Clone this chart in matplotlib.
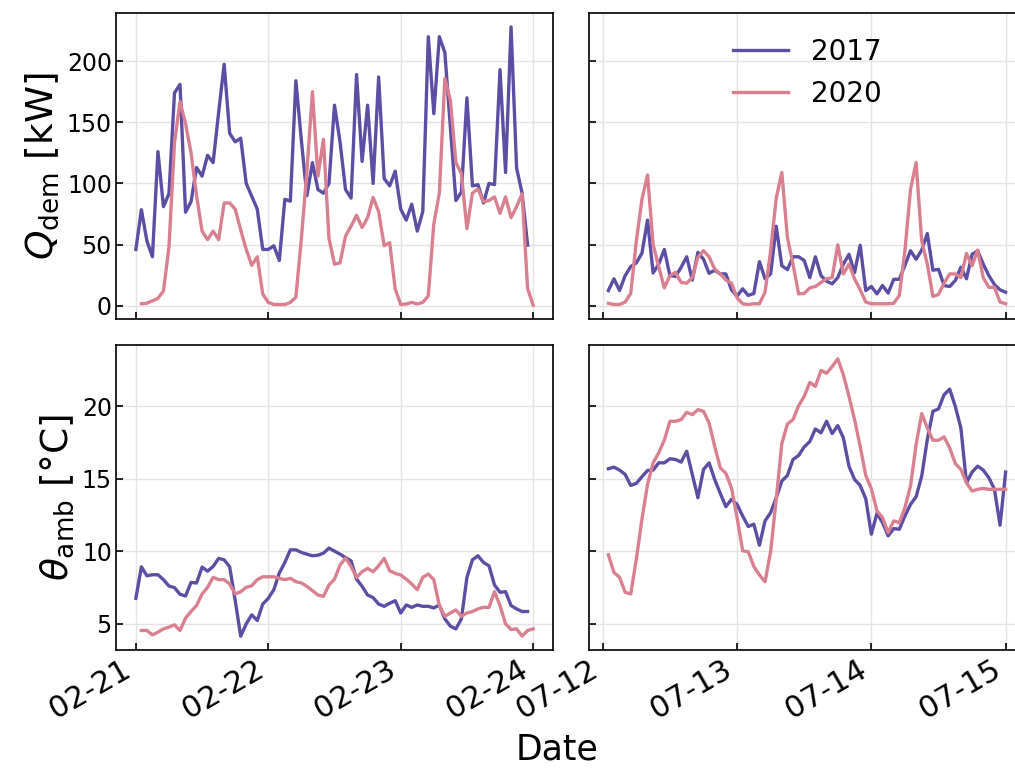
import matplotlib
matplotlib.use('Agg')
import matplotlib.pyplot as plt
import matplotlib.dates as mdates
import pandas as pd

# hourly values, winter week (Feb) and summer week (Jul)
q_feb_2017 = [46, 78.5, 53, 40, 126, 81, 91.5, 174, 181, 76.5, 85, 113, 106, 123, 117, 158,
              197.5, 141, 134, 137, 100, 89.5, 79, 46, 46, 49, 37, 87, 85.5, 184, 135, 90,
              117, 95, 92, 100, 164, 134, 95, 88, 189, 118, 164, 100, 187, 104, 98, 110,
              79, 70, 83, 61, 77, 220, 157, 220, 207, 146, 86, 93, 170, 98, 99, 84,
              100, 99, 193, 109, 228, 112.6, 92, 49.5]
q_feb_2020 = [1.6, 2, 4, 6, 12, 48, 133, 167, 149, 125, 90, 61, 54, 61, 54, 84,
              84, 79, 62, 46, 33, 40, 9.5, 2.7, 1, 1, 1, 2.7, 7, 55, 110, 175,
              106, 136, 55, 34, 35, 57, 65, 74, 64, 72, 88.5, 77, 49, 51.6, 13.7, 1,
              1.4, 2.7, 1.4, 2.7, 8, 67, 92, 186, 168, 117, 108, 63, 92, 95.5,
              85, 86, 89, 75.5, 89, 72, 81, 91.5, 14, 0.5]
q_jul_2017 = [12.4, 22, 12.4, 24.6, 32, 35, 43, 70, 26.8, 34, 46, 24.6, 24, 31.4, 40, 21,
              43.6, 38, 26.5, 29, 26, 26, 13, 7.8, 13.8, 8.4, 10, 36, 22, 26, 65, 32.7,
              29.5, 40, 40, 37, 23, 40, 24.6, 20, 17.9, 23, 34, 42, 27, 49.5, 12.4, 15.7,
              9.7, 16.5, 10.3, 21.6, 21.6, 33, 45, 38, 45.5, 59, 29, 29.8, 16.5, 15.7,
              20.6, 31.4, 22, 42, 45, 34, 24.6, 17.3, 13, 11]
q_jul_2020 = [2, 1, 1, 3, 10, 53, 87, 107, 50, 32, 14.6, 24.6, 27.3, 19, 18.4, 23,
              39.5, 45, 40, 30, 26, 21, 18.4, 6.5, 1.6, 1, 1.6, 1.6, 11, 45, 88, 109,
              55.7, 34, 9.7, 10, 14.6, 15.7, 19, 22, 23, 49.8, 26, 34, 22, 13, 3, 1.6,
              1.6, 1.6, 1.6, 2, 8.4, 45, 95, 117, 53, 34, 7.6, 9.2, 18.4, 26,
              26, 23, 42.7, 32.7, 45.5, 23, 15, 15, 3, 1.6]

t_feb_2017 = [6.74, 8.92, 8.30, 8.37, 8.37, 8.03, 7.59, 7.48, 7.02, 6.90, 7.84, 7.80, 8.90, 8.62,
              8.94, 9.50, 9.40, 8.92, 6.6, 4.13, 4.98, 5.60, 5.21, 6.35, 6.74, 7.34, 8.49, 9.22,
              10.09, 10.09, 9.91, 9.79, 9.68, 9.72, 9.86, 10.21, 10.0, 9.79, 9.56, 9.33, 8.07, 7.57,
              6.97, 6.79, 6.35, 6.19, 6.40, 6.58, 5.73, 6.28, 6.12, 6.28, 6.19, 6.19, 6.08, 6.28,
              5.32, 4.82, 4.63, 5.32, 8.19, 9.40, 9.68, 9.22, 8.99, 7.66, 7.16, 7.20, 6.24, 6.01,
              5.83, 5.83]
t_feb_2020 = [4.52, 4.52, 4.22, 4.40, 4.63, 4.75, 4.91, 4.52, 5.37, 5.83, 6.24, 7.04, 7.50, 8.19,
              8.03, 8.03, 7.73, 7.04, 7.20, 7.50, 7.61, 8.03, 8.23, 8.23, 8.23, 8.12, 8.03, 8.12,
              7.89, 7.80, 7.57, 7.27, 6.97, 6.88, 7.66, 8.07, 9.04, 9.52, 8.94, 8.19, 8.58, 8.81,
              8.58, 8.99, 9.50, 8.65, 8.46, 8.35, 8.07, 7.73, 7.34, 8.19, 8.42, 8.03, 6.24, 5.50,
              5.73, 5.94, 5.50, 5.73, 5.83, 6.01, 6.12, 6.12, 7.20, 6.24, 4.98, 4.59, 4.63, 4.13,
              4.52, 4.63]
t_jul_2017 = [15.69, 15.80, 15.60, 15.30, 14.54, 14.68, 15.14, 15.57, 15.60, 16.10, 16.10, 16.38,
              16.33, 16.15, 16.90, 15.30, 13.69, 15.64, 16.10, 14.95, 13.99, 13.07, 13.58, 13.23,
              12.43, 11.70, 11.86, 10.41, 12.09, 12.66, 13.69, 14.84, 15.23, 16.33, 16.61, 17.20,
              17.57, 18.44, 18.17, 18.97, 18.12, 18.67, 17.82, 15.87, 14.95, 14.54, 13.62, 11.17,
              12.61, 11.97, 11.06, 11.56, 11.51, 12.43, 13.23, 13.76, 15.18, 17.71, 19.66, 19.82,
              20.80, 21.19, 20.0, 18.51, 14.72, 15.46, 15.87, 15.60, 15.07, 14.27, 11.79, 15.46]
t_jul_2020 = [9.75, 8.53, 8.19, 7.16, 7.04, 9.45, 12.20, 14.61, 16.10, 16.79, 17.66, 18.97,
              18.97, 19.08, 19.59, 19.43, 19.77, 19.66, 18.85, 17.25, 15.76, 15.37, 14.38, 12.32,
              10.02, 9.96, 8.94, 8.35, 7.89, 9.96, 13.58, 17.43, 18.78, 19.08, 20.05, 20.69,
              21.65, 21.38, 22.48, 22.29, 22.75, 23.28, 22.18, 20.69, 19.08, 17.25, 15.23, 14.31,
              12.78, 12.32, 11.28, 12.09, 11.97, 13.0, 14.50, 17.36, 19.50, 18.51, 17.66, 17.66,
              17.89, 17.13, 16.06, 15.64, 14.72, 14.15, 14.27, 14.33, 14.27, 14.27, 14.27, 14.27]

# time stamps (both years drawn on a common calendar)
idx_feb_2017 = pd.date_range('2017-02-21 00:00', periods=len(q_feb_2017), freq='h')
idx_feb_2020 = pd.date_range('2017-02-21 01:00', periods=len(q_feb_2020), freq='h')
idx_jul_2017 = pd.date_range('2017-07-12 01:00', periods=len(q_jul_2017), freq='h')
idx_jul_2020 = pd.date_range('2017-07-12 01:00', periods=len(q_jul_2020), freq='h')

c17 = '#5b4ea3'
c20 = '#d8808f'
lw = 2.4

fig = plt.figure(figsize=(10.15, 7.68), dpi=100)
W, H = 1015., 768.
def box(x0, y0, x1, y1):
    return [x0 / W, 1 - y1 / H, (x1 - x0) / W, (y1 - y0) / H]

ax1 = fig.add_axes(box(116, 13, 553, 319))
ax2 = fig.add_axes(box(588.5, 13, 1025.5, 319), sharey=ax1)
ax3 = fig.add_axes(box(116, 345, 553, 650), sharex=ax1)
ax4 = fig.add_axes(box(588.5, 345, 1025.5, 650), sharex=ax2, sharey=ax3)

ax1.plot(idx_feb_2017, q_feb_2017, color=c17, lw=lw, label='2017')
ax1.plot(idx_feb_2020, q_feb_2020, color=c20, lw=lw, label='2020')
ax2.plot(idx_jul_2017, q_jul_2017, color=c17, lw=lw, label='2017')
ax2.plot(idx_jul_2020, q_jul_2020, color=c20, lw=lw, label='2020')
ax3.plot(idx_feb_2017, t_feb_2017, color=c17, lw=lw)
ax3.plot(idx_feb_2020, t_feb_2020, color=c20, lw=lw)
ax4.plot(idx_jul_2017, t_jul_2017, color=c17, lw=lw)
ax4.plot(idx_jul_2020, t_jul_2020, color=c20, lw=lw)

for ax in (ax1, ax2, ax3, ax4):
    ax.grid(True, color='#e3e3e3', lw=1)
    ax.set_axisbelow(True)
    ax.tick_params(direction='in', length=5, width=1.2)
    ax.tick_params(axis='y', labelsize=17, pad=3)
    ax.tick_params(axis='x', labelsize=22)
    for s in ax.spines.values():
        s.set_linewidth(1.2)
    ax.xaxis.set_major_locator(mdates.DayLocator())
    ax.xaxis.set_major_formatter(mdates.DateFormatter('%m-%d'))

ax1.set_yticks([0, 50, 100, 150, 200])
ax3.set_yticks([5, 10, 15, 20])
for ax in (ax1, ax2):
    ax.tick_params(labelbottom=False)
for ax in (ax2, ax4):
    ax.tick_params(labelleft=False)
for ax in (ax3, ax4):
    for lab in ax.get_xticklabels():
        lab.set_rotation(30)
        lab.set_ha('right')

ax1.set_ylabel(r'$Q_\mathrm{dem}$ [kW]', fontsize=27)
ax3.set_ylabel(r'$\theta_\mathrm{amb}$ [°C]', fontsize=27)
fig.text(557 / W, 1 - 750 / H, 'Date', fontsize=25, ha='center', va='center')

ax2.legend(loc='upper center', frameon=False, fontsize=20)

fig.savefig('out.png', dpi=100)
